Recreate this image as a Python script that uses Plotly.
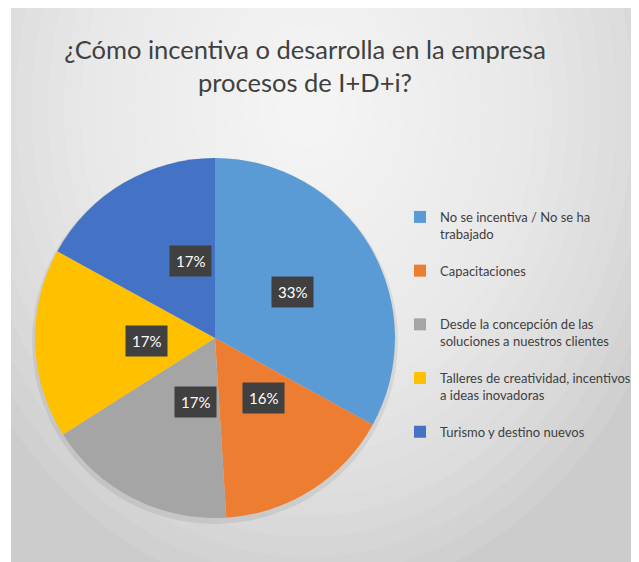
import math
import plotly.graph_objects as go

# ---- data ----
categories = [
    "No se incentiva / No se ha trabajado",
    "Capacitaciones",
    "Desde la concepción de las soluciones a nuestros clientes",
    "Talleres de creatividad, incentivos a ideas inovadoras",
    "Turismo y destino nuevos",
]
legend_labels = [
    "No se incentiva / No se ha<br>trabajado<br> ",
    "Capacitaciones<br> <br> ",
    "Desde la concepción de las<br>soluciones a nuestros clientes<br> ",
    "Talleres de creatividad, incentivos<br>a ideas inovadoras<br> ",
    "Turismo y destino nuevos<br> <br> ",
]
values = [33, 16, 17, 17, 17]
colors = ["#5B9BD5", "#ED7D31", "#A5A5A5", "#FFC000", "#4472C4"]
title_text = "¿Cómo incentiva o desarrolla en la empresa<br>procesos de I+D+i?"

# ---- layout geometry (page pixels; the page body adds an 8px offset) ----
OFF = 8
W, H = 639 - OFF, 562 - OFF
CX, CY, R = 215 - OFF, 338 - OFF, 180
FONT = "Lato, Liberation Sans, sans-serif"

fig = go.Figure()
fig.add_trace(go.Pie(
    labels=legend_labels,
    values=values,
    customdata=categories,
    marker=dict(colors=colors, line=dict(width=0)),
    sort=False,
    direction="clockwise",
    rotation=0,
    textinfo="none",
    hovertemplate="%{customdata}: %{percent}<extra></extra>",
    domain=dict(x=[(CX - R) / W, (CX + R) / W], y=[1 - (CY + R) / H, 1 - (CY - R) / H]),
))

# percentage labels with dark boxes, placed at mid-angle of each slice
total = sum(values)
cum = 0
annotations = []
for v in values:
    mid = (cum + v / 2) / total
    cum += v
    th = 2 * math.pi * mid
    xp = CX + 0.5 * R * math.sin(th)
    yp = CY - 0.5 * R * math.cos(th)
    annotations.append(dict(
        x=xp / W, y=1 - yp / H, xref="paper", yref="paper",
        text=f"{round(100 * v / total)}%", showarrow=False,
        font=dict(family=FONT, size=15, color="white"),
        bgcolor="#404040", borderpad=6,
    ))

# background: gray panel with soft radial light
shapes = [dict(type="rect", xref="paper", yref="paper", x0=3 / W, x1=1.05, y0=-0.05, y1=1.05,
               fillcolor="#cccccc", line=dict(width=0), layer="below")]
n = 24
for i in range(n):
    k = 1 - i / n
    rx, ry = 390 * k, 490 * k
    cx, cy = 300, 100
    shapes.append(dict(type="circle", xref="paper", yref="paper",
                       x0=(cx - rx) / W, x1=(cx + rx) / W,
                       y0=1 - (cy + ry) / H, y1=1 - (cy - ry) / H,
                       fillcolor="rgba(255,255,255,0.078)", line=dict(width=0), layer="below"))
# pie shadow
shapes.append(dict(type="circle", xref="paper", yref="paper",
                   x0=(CX - R - 3) / W, x1=(CX + R + 3) / W,
                   y0=1 - (CY + R + 6) / H, y1=1 - (CY - R) / H,
                   fillcolor="rgba(0,0,0,0.07)", line=dict(width=0), layer="below"))

fig.update_layout(
    width=W, height=H,
    margin=dict(l=0, r=0, t=0, b=0),
    paper_bgcolor="white",
    plot_bgcolor="rgba(0,0,0,0)",
    title=dict(text=title_text, x=(305 - OFF) / W, xanchor="center", y=1 - (59 - OFF) / H,
               yanchor="middle", yref="paper", xref="paper",
               font=dict(family=FONT, size=25.5, color="#404040")),
    legend=dict(x=(437 - 37 - OFF) / W, y=1 - (202 - OFF) / H, xanchor="left", yanchor="top",
                font=dict(family=FONT, size=13, color="#404040"),
                bgcolor="rgba(0,0,0,0)", valign="top", itemwidth=30,
                tracegroupgap=0),
    showlegend=True,
    annotations=annotations,
    shapes=shapes,
)

fig.write_html("out.html")
